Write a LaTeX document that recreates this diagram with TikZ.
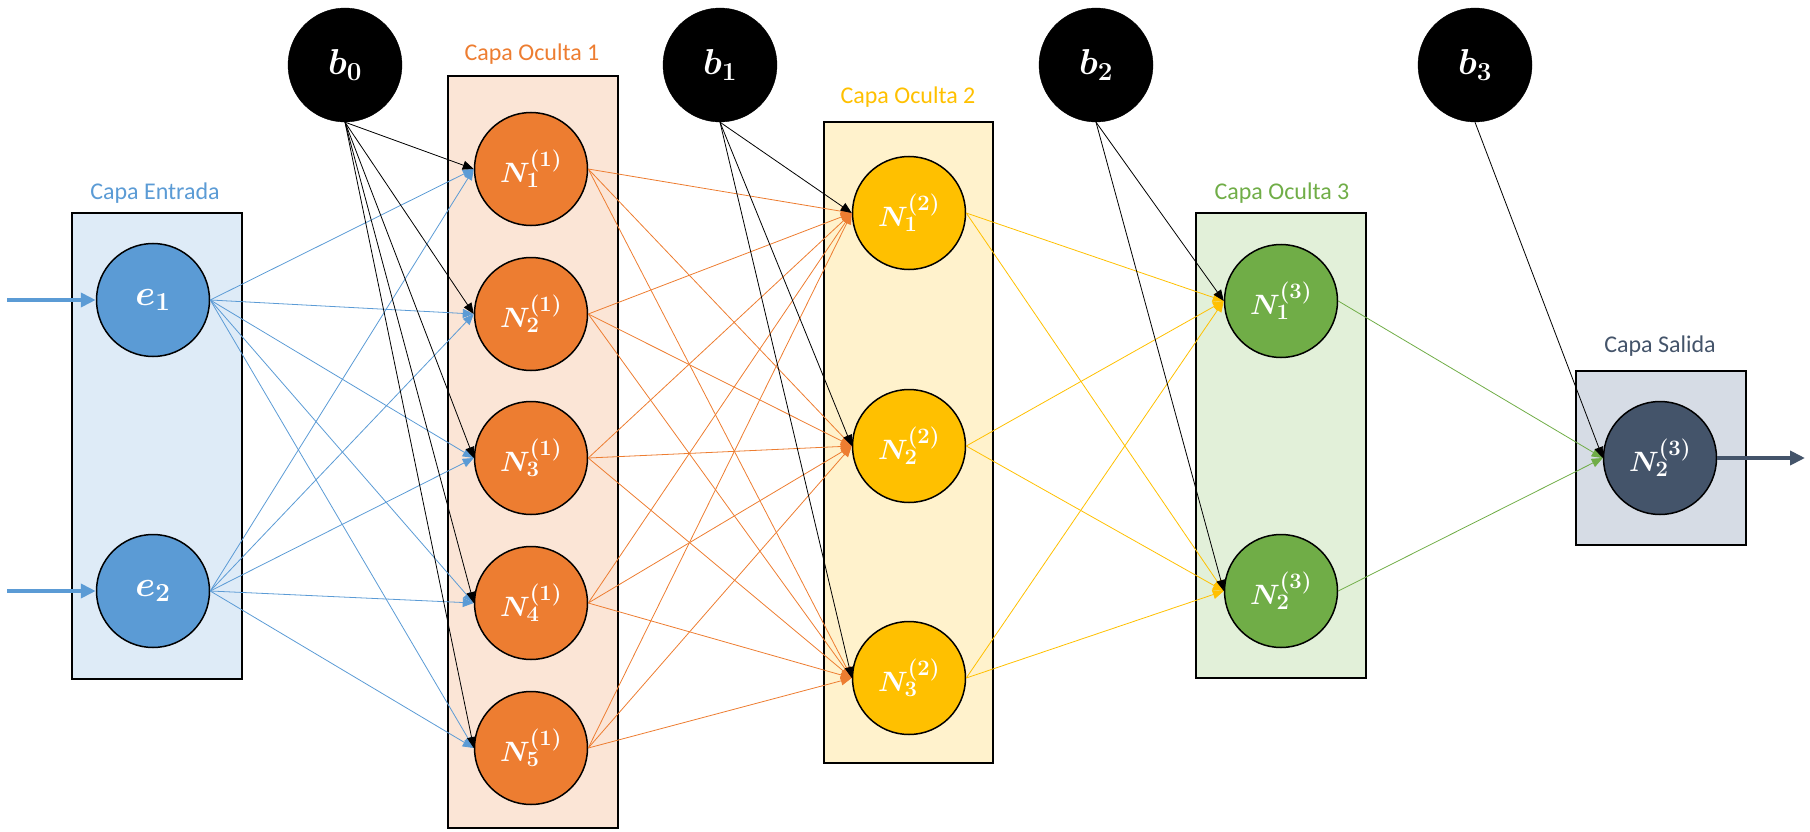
\RequirePackage{fix-cm}
\documentclass[tikz,border=0pt]{standalone}
\usepackage{fontspec}
\setmainfont{Carlito}
\usetikzlibrary{arrows.meta}
\DeclareMathSizes{28}{28}{22}{16}
\DeclareMathSizes{36}{36}{26}{20}
\definecolor{cblue}{HTML}{5B9BD5}
\definecolor{cblueL}{HTML}{DEEBF7}
\definecolor{corange}{HTML}{ED7D31}
\definecolor{corangeL}{HTML}{FBE5D6}
\definecolor{cgold}{HTML}{FFC000}
\definecolor{cgoldL}{HTML}{FFF2CC}
\definecolor{cgreen}{HTML}{70AD47}
\definecolor{cgreenL}{HTML}{E2F0D9}
\definecolor{cslate}{HTML}{44546A}
\definecolor{cslateL}{HTML}{D6DCE5}
\tikzset{
  layerbox/.style={draw=black, line width=2pt, inner sep=0pt, outer sep=0pt},
  neuron/.style={circle, draw=black, line width=1.5pt, minimum size=113pt, inner sep=0pt, text=white, font=\fontsize{28}{32}\selectfont\boldmath},
  inneuron/.style={neuron, font=\fontsize{36}{40}\selectfont\boldmath},
  bias/.style={circle, fill=black, draw=black, minimum size=114pt, inner sep=0pt, text=white, font=\fontsize{36}{40}\selectfont\boldmath},
  lbl/.style={font=\fontsize{24}{28}\selectfont},
  conn/.style={line width=0.8pt, -{Triangle[length=11pt,width=9pt]}},
  bigarrow/.style={line width=4.5pt, -{Triangle[length=15pt,width=14pt]}}
}
\begin{document}
\begin{tikzpicture}[x=1pt,y=-1pt]
\useasboundingbox (0,0) rectangle (1810,832);
% layer boxes
\node[layerbox, fill=cblueL, minimum width=170pt, minimum height=466pt] (L0) at (157,446) {};
\node[layerbox, fill=corangeL, minimum width=170pt, minimum height=752pt] (L1) at (533,452) {};
\node[layerbox, fill=cgoldL, minimum width=169pt, minimum height=641pt] (L2) at (908.5,442.5) {};
\node[layerbox, fill=cgreenL, minimum width=170pt, minimum height=465pt] (L3) at (1281,445.5) {};
\node[layerbox, fill=cslateL, minimum width=170pt, minimum height=174pt] (L4) at (1661,458) {};
% labels
\node[lbl, text=cblue] (t0) at (155,193) {Capa Entrada};
\node[lbl, text=corange] (t1) at (532,54) {Capa Oculta 1};
\node[lbl, text=cgold] (t2) at (908,97) {Capa Oculta 2};
\node[lbl, text=cgreen] (t3) at (1282,193) {Capa Oculta 3};
\node[lbl, text=cslate] (t4) at (1660,346) {Capa Salida};
% bias nodes
\node[bias] (b0) at (345,65) {$b_0$};
\node[bias] (b1) at (720,65) {$b_1$};
\node[bias] (b2) at (1096,65) {$b_2$};
\node[bias] (b3) at (1475,65) {$b_3$};
% neurons
\node[inneuron, fill=cblue] (e1) at (153,300) {$e_1$};
\node[inneuron, fill=cblue] (e2) at (153,591) {$e_2$};
\foreach \i/\y in {1/169,2/314,3/458,4/603,5/748}
  \node[neuron, fill=corange] (h1\i) at (531,\y) {$N_{\i}^{(1)}$};
\foreach \i/\y in {1/213,2/446,3/678}
  \node[neuron, fill=cgold] (h2\i) at (909,\y) {$N_{\i}^{(2)}$};
\foreach \i/\y in {1/301,2/591}
  \node[neuron, fill=cgreen] (h3\i) at (1281,\y) {$N_{\i}^{(3)}$};
\node[neuron, fill=cslate] (out) at (1660,458) {$N_{2}^{(3)}$};
% input / output arrows
\coordinate (in1) at (7,300);
\coordinate (in2) at (7,591);
\coordinate (outend) at (1805,458);
\draw[bigarrow, cblue] (in1) -- (e1.west);
\draw[bigarrow, cblue] (in2) -- (e2.west);
\draw[bigarrow, cslate] (out.east) -- (outend);
% connections
\foreach \s in {1,2}
  \foreach \t in {1,...,5}
    \draw[conn, cblue] (e\s.east) -- (h1\t.west);
\foreach \t in {1,...,5}
  \draw[conn, black] (b0.south) -- (h1\t.west);
\foreach \s in {1,...,5}
  \foreach \t in {1,2,3}
    \draw[conn, corange] (h1\s.east) -- (h2\t.west);
\foreach \t in {1,2,3}
  \draw[conn, black] (b1.south) -- (h2\t.west);
\foreach \s in {1,2,3}
  \foreach \t in {1,2}
    \draw[conn, cgold] (h2\s.east) -- (h3\t.west);
\foreach \t in {1,2}
  \draw[conn, black] (b2.south) -- (h3\t.west);
\foreach \s in {1,2}
  \draw[conn, cgreen] (h3\s.east) -- (out.west);
\draw[conn, black] (b3.south) -- (out.west);
\end{tikzpicture}
\end{document}
